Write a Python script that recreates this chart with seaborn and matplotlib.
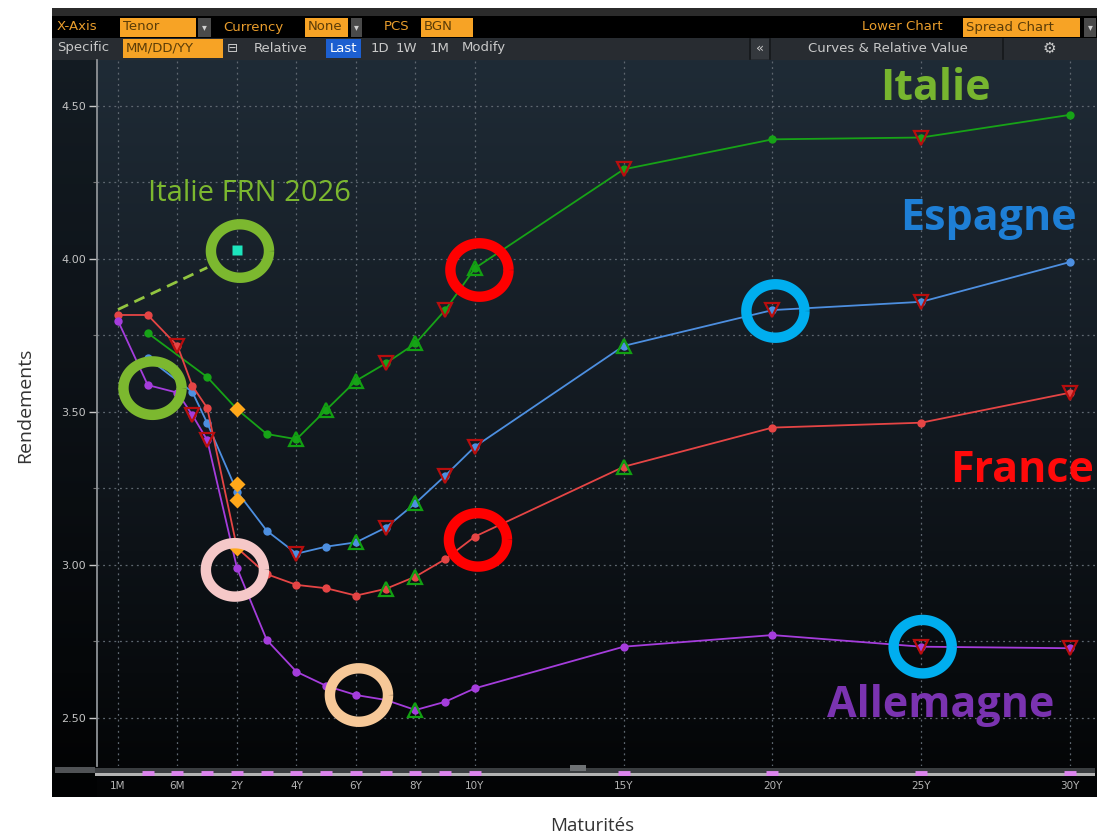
import numpy as np
import pandas as pd
import seaborn as sns
import matplotlib.pyplot as plt
from matplotlib.path import Path
from matplotlib.patches import Rectangle
from matplotlib.colors import LinearSegmentedColormap

# tenors (label -> years)
tenor_names = ['1M', '3M', '6M', '9M', '1Y', '2Y', '3Y', '4Y', '5Y', '6Y', '7Y', '8Y', '9Y', '10Y', '15Y', '20Y', '25Y', '30Y']
tenor_years = [1/12, 0.25, 0.5, 0.75, 1, 2, 3, 4, 5, 6, 7, 8, 9, 10, 15, 20, 25, 30]
tick_names = ['1M', '6M', '2Y', '4Y', '6Y', '8Y', '10Y', '15Y', '20Y', '25Y', '30Y']
bar_tenors = ['3M', '6M', '1Y', '2Y', '3Y', '4Y', '5Y', '6Y', '7Y', '8Y', '9Y', '10Y', '15Y', '20Y', '25Y', '30Y']

# courbes
italie_tenors = ['3M', '1Y', '2Y', '3Y', '4Y', '5Y', '6Y', '7Y', '8Y', '9Y', '10Y', '15Y', '20Y', '25Y', '30Y']
italie = [3.758, 3.614, 3.509, 3.428, 3.411, 3.507, 3.602, 3.659, 3.724, 3.833, 3.970, 4.293, 4.391, 4.397, 4.471]

espagne_tenors = ['3M', '9M', '1Y', '2Y', '3Y', '4Y', '5Y', '6Y', '7Y', '8Y', '9Y', '10Y', '15Y', '20Y', '25Y', '30Y']
espagne = [3.676, 3.565, 3.464, 3.240, 3.112, 3.037, 3.060, 3.074, 3.122, 3.202, 3.292, 3.387, 3.716, 3.833, 3.860, 3.990]

france_tenors = tenor_names
france = [3.817, 3.817, 3.716, 3.585, 3.513, 3.056, 2.970, 2.935, 2.924, 2.900, 2.922, 2.962, 3.019, 3.093, 3.321, 3.449, 3.465, 3.563]

allemagne_tenors = tenor_names
allemagne = [3.798, 3.588, 3.563, 3.490, 3.408, 2.990, 2.755, 2.651, 2.605, 2.575, 2.559, 2.526, 2.553, 2.597, 2.733, 2.771, 2.733, 2.728]

# Italie FRN 2026
frn_tenor = '2Y'
frn_value = 4.029
frn_link_tenors = ['1M', '1Y']
frn_link = [3.835, 3.972]

# marqueurs Bloomberg
diamond_tenor = '2Y'
diamond_values = [3.509, 3.265, 3.212, 3.055]
red_down = [('Italie', '7Y'), ('Italie', '9Y'), ('Italie', '15Y'), ('Italie', '25Y'),
            ('Espagne', '4Y'), ('Espagne', '7Y'), ('Espagne', '9Y'), ('Espagne', '10Y'),
            ('Espagne', '20Y'), ('Espagne', '25Y'),
            ('France', '6M'), ('France', '30Y'),
            ('Allemagne', '9M'), ('Allemagne', '1Y'), ('Allemagne', '25Y'), ('Allemagne', '30Y')]
green_up = [('Italie', '4Y'), ('Italie', '5Y'), ('Italie', '6Y'), ('Italie', '8Y'), ('Italie', '10Y'),
            ('Espagne', '6Y'), ('Espagne', '8Y'), ('Espagne', '15Y'),
            ('France', '7Y'), ('France', '8Y'), ('France', '15Y'),
            ('Allemagne', '8Y')]

# cercles d'annotation
ring_years = [2.1, 0.29, 10.15, 10.1, 1.93, 6.1, 20.1, 25.05]
ring_values = [4.026, 3.578, 3.964, 3.082, 2.984, 2.575, 3.830, 2.733]
ring_colors = ['#7cb82f', '#7cb82f', '#ff0000', '#ff0000', '#f5c8c8', '#f6c898', '#00aeef', '#00aeef']

yr = dict(zip(tenor_names, tenor_years))
series = {'Italie': (italie_tenors, italie), 'Espagne': (espagne_tenors, espagne),
          'France': (france_tenors, france), 'Allemagne': (allemagne_tenors, allemagne)}
palette = {'Italie': '#17a317', 'Espagne': '#4d8fe0', 'France': '#e54545', 'Allemagne': '#a53ddc'}

rows = []
for pays, (tn, vals) in series.items():
    for t, v in zip(tn, vals):
        rows.append({'pays': pays, 'tenor': t, 'annees': yr[t], 'rendement': v})
df = pd.DataFrame(rows)

W, H = 1112, 839
fig = plt.figure(figsize=(W / 100, H / 100), dpi=100, facecolor='white')

# fond / interface
ui = fig.add_axes([0, 0, 1, 1], zorder=0)
ui.set_xlim(0, W)
ui.set_ylim(H, 0)
ui.axis('off')


def rect(x0, y0, x1, y1, color, **kw):
    ui.add_patch(Rectangle((x0, y0), x1 - x0, y1 - y0, facecolor=color, edgecolor='none', **kw))


rect(52, 8, 1097, 797, '#08090b')
cm = LinearSegmentedColormap.from_list('bg', ['#1f2b36', '#121920', '#030405'])
ui.imshow(np.linspace(0, 1, 256)[:, None], extent=[52, 1097, 797, 60], cmap=cm, aspect='auto', zorder=1)
rect(52, 60, 97, 797, 'black', alpha=0.35, zorder=2)

rect(52, 8, 1097, 16, '#2b2b2b', zorder=3)
rect(52, 16, 1097, 38, '#000000', zorder=3)
rect(52, 38, 1097, 60, '#282c31', zorder=3)
for xs in [750, 770, 1003]:
    ui.plot([xs, xs], [39, 59], color='#15181b', lw=1.2, zorder=4)
rect(751, 39, 769, 59, '#34383d', zorder=3)

orange_txt = '#e99d2c'
orange_box = '#f7a325'
hdr = dict(fontsize=9.5, va='center', zorder=5)
for txt, x in [('X-Axis', 57), ('Currency', 223), ('PCS', 384), ('Lower Chart', 862)]:
    ui.text(x, 27, txt, color=orange_txt, **hdr)
for txt, x0, x1 in [('Tenor', 120, 196), ('None', 305, 348), ('BGN', 421, 473), ('Spread Chart', 963, 1080)]:
    rect(x0, 18, x1, 37, orange_box, zorder=4)
    ui.text(x0 + 3, 27, txt, color='#5a3c08', **hdr)
for x0, x1 in [(198, 211), (351, 362), (1084, 1096)]:
    rect(x0, 18, x1, 37, '#4a4a4a', zorder=4)
    ui.text((x0 + x1) / 2, 27, '▾', color='#d0d0d0', ha='center', fontsize=7, va='center', zorder=5)

gray_txt = '#c9c9c9'
ui.text(57, 48, 'Specific', color=gray_txt, **hdr)
rect(123, 39, 223, 58, orange_box, zorder=4)
ui.text(126, 48, 'MM/DD/YY', color='#5a3c08', **hdr)
ui.text(232, 48, '⊟', color=gray_txt, ha='center', **hdr)
ui.text(254, 48, 'Relative', color=gray_txt, **hdr)
rect(326, 39, 361, 58, '#1d5fd0', zorder=4)
ui.text(343.5, 48, 'Last', color='white', ha='center', **hdr)
for txt, x in [('1D', 371), ('1W', 396), ('1M', 430), ('Modify', 462)]:
    ui.text(x, 48, txt, color=gray_txt, **hdr)
ui.text(760, 48, '«', color=gray_txt, ha='center', **hdr)
ui.text(888, 48, 'Curves & Relative Value', color=gray_txt, ha='center', **hdr)
ui.text(1049, 48, '⚙', color=gray_txt, ha='center', fontsize=11, va='center', zorder=5)

# barre du bas
rect(55, 767, 95, 773, '#505356', zorder=3)
rect(95, 768, 1095, 775, '#3a3d40', zorder=3)
rect(95, 773, 1095, 776, '#b3b3b3', zorder=4)
rect(570, 765, 586, 771, '#6e7174', zorder=4)

# axe principal
ax = fig.add_axes([97 / W, (H - 766) / H, 1000 / W, (766 - 60) / H], zorder=2)
ax.set_facecolor('none')

knots_years = [-1 / 12, 1 / 12, 0.25, 0.5, 1, 2, 40]
knots_pos = [-3, -2, -1, 0, 1, 2, 40]


def fwd(x):
    return np.interp(x, knots_years, knots_pos)


def inv(u):
    return np.interp(u, knots_pos, knots_years)


ax.set_xscale('function', functions=(fwd, inv))
ax.set_xlim(float(inv(-2.706)), 30.91)
ax.set_ylim(2.3431, 4.6503)

sns.lineplot(data=df, x='annees', y='rendement', hue='pays', palette=palette, estimator=None,
             units='pays', marker='o', markersize=6, markeredgewidth=0, linewidth=1.3,
             legend=False, ax=ax, zorder=4)

# FRN
ax.plot([yr[t] for t in frn_link_tenors], frn_link, ls=(0, (4, 2.5)), color='#92c540', lw=2, zorder=4)
ax.plot(yr[frn_tenor], frn_value, marker='s', ms=7.5, color='#1de5bd', mec='none', zorder=6)

# triangles et losanges
val = {p: dict(zip(tn, v)) for p, (tn, v) in series.items()}
ax.plot([yr[t] for p, t in red_down], [val[p][t] for p, t in red_down], ls='none', marker='v',
        ms=10, mfc='none', mec='#b80e0e', mew=1.6, zorder=5)
ax.plot([yr[t] for p, t in green_up], [val[p][t] for p, t in green_up], ls='none', marker='^',
        ms=10, mfc='none', mec='#12a012', mew=1.6, zorder=5)
ax.plot([yr[diamond_tenor]] * len(diamond_values), diamond_values, ls='none', marker='D',
        ms=8, color='#ffa81a', mec='none', zorder=6)

# cercles
t = np.linspace(0, 2 * np.pi, 120)
ring = Path(np.column_stack([np.cos(t), 0.92 * np.sin(t)]))
ax.scatter(ring_years, ring_values, s=1750, marker=ring, facecolors='none',
           edgecolors=ring_colors, linewidths=7.5, zorder=7)

# pastilles de la barre
ax.plot([yr[t] for t in bar_tenors], [-0.0105] * len(bar_tenors), ls='none', marker='_',
        ms=9, mew=3.5, color='#dc84ee', transform=ax.get_xaxis_transform(), clip_on=False, zorder=8)

# axes / grille
ax.set_xticks([yr[t] for t in tick_names])
ax.set_xticklabels(tick_names)
ax.set_yticks([2.5, 3.0, 3.5, 4.0, 4.5])
ax.set_yticklabels(['2.50', '3.00', '3.50', '4.00', '4.50'])
ax.set_yticks([2.75, 3.25, 3.75, 4.25], minor=True)
ax.xaxis.set_minor_locator(plt.NullLocator())
ax.tick_params(axis='x', length=0, pad=11, labelsize=7.5, labelcolor='#b5b5b5')
ax.tick_params(axis='y', which='major', length=6, width=1, color='#c8c8c8', pad=2,
               labelsize=8, labelcolor='#c4c4c4')
ax.tick_params(axis='y', which='minor', length=3, width=0.8, color='#777777')
for lab in ax.get_xticklabels() + ax.get_yticklabels():
    lab.set_family(['Liberation Sans Narrow', 'DejaVu Sans'])
ax.grid(True, which='both', axis='y', color='#5e6770', lw=0.9, ls=(0, (1.5, 3)), zorder=1)
ax.grid(True, which='major', axis='x', color='#5e6770', lw=0.9, ls=(0, (1.5, 3)), zorder=1)
for s in ['top', 'right', 'bottom']:
    ax.spines[s].set_visible(False)
ax.spines['left'].set_color('#8e9296')
ax.spines['left'].set_linewidth(1.3)
ax.set_xlabel('')
ax.set_ylabel('')

# étiquettes
big = dict(fontsize=31, fontweight='bold', family=['Open Sans', 'DejaVu Sans'],
           transform=ui.transData, va='baseline', clip_on=False, zorder=9)
ax.text(880, 100, 'Italie', color='#77b52f', **big)
ax.text(900, 230, 'Espagne', color='#1e7fd6', **big)
ax.text(950, 482, 'France', color='#ff0a0a', **big)
ax.text(827, 717, 'Allemagne', color='#7a33b0', **big)
ax.text(148, 201, 'Italie FRN 2026', color='#7cb82f', fontsize=21, family=['Open Sans', 'DejaVu Sans'],
        transform=ui.transData, va='baseline', zorder=9)

fig.text(592 / W, 1 - 826 / H, 'Maturités', ha='center', va='center', fontsize=13.5,
         color='#333333', family=['Open Sans', 'DejaVu Sans'])
fig.text(25 / W, 1 - 405 / H, 'Rendements', ha='center', va='center', rotation=90, fontsize=14,
         color='#333333', family=['Open Sans', 'DejaVu Sans'])

fig.savefig('out.png', dpi=100, facecolor='white')
